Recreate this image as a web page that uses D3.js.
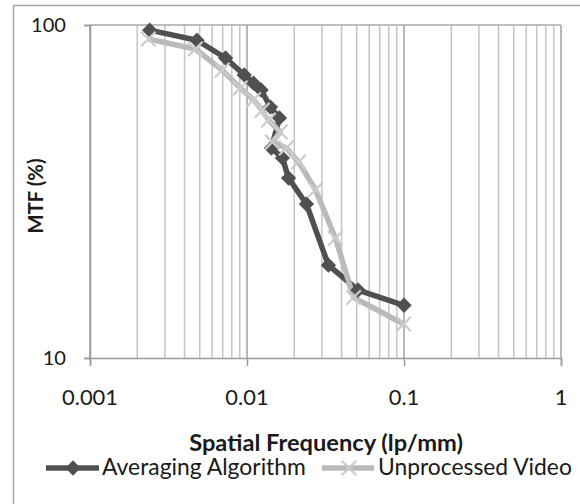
<!DOCTYPE html>
<html><head><meta charset="utf-8">
<script src="https://cdn.jsdelivr.net/npm/d3@7"></script>
<style>html,body{margin:0;padding:0;background:#fff;}svg{display:block;}</style>
</head><body>
<svg id="chart" width="580" height="504"></svg>
<script>
// ---- data ----
const avgFreq = [0.0024, 0.0048, 0.0073, 0.0096, 0.0110, 0.0123, 0.0141, 0.0161, 0.0143, 0.0168, 0.0184, 0.0239, 0.0330, 0.0510, 0.1000];
const avgMTF  = [96.5, 90.0, 79.6, 70.8, 66.9, 63.8, 56.7, 52.6, 42.7, 39.9, 34.7, 29.0, 19.0, 16.0, 14.4];
const rawFreq = [0.00235, 0.00468, 0.00696, 0.00907, 0.0110, 0.0125, 0.0137, 0.0163, 0.0145, 0.0178, 0.0213, 0.0273, 0.0366, 0.0477, 0.0995];
const rawMTF  = [90.8, 84.7, 73.2, 64.7, 59.6, 55.5, 51.8, 47.7, 44.5, 42.7, 38.8, 32.0, 22.9, 15.2, 12.65];
const xTicks = [0.001, 0.01, 0.1, 1];
const xTickLabels = ["0.001", "0.01", "0.1", "1"];
const yTicks = [10, 100];
const yTickLabels = ["10", "100"];
const seriesNames = ["Averaging Algorithm", "Unprocessed Video"];
const xTitle = "Spatial Frequency (lp/mm)";
const yTitle = "MTF (%)";

// ---- layout ----
const L = 90, R = 561, T = 25, B = 358;
const FONT = "Lato, 'Open Sans', sans-serif";
const svg = d3.select("#chart");
const x = d3.scaleLog().domain([0.001, 1]).range([L, R]);
const y = d3.scaleLog().domain([10, 100]).range([B, T]);

const fit = (sel, target) => {
  const w = sel.node().getComputedTextLength();
  const fs = parseFloat(sel.attr("font-size"));
  sel.attr("font-size", fs * target / w);
  return sel;
};

// outer frame
svg.append("rect").attr("x", 13.5).attr("y", 5.5).attr("width", 640).attr("height", 640)
  .attr("fill", "none").attr("stroke", "#a8a8a8").attr("stroke-width", 1.5);

// vertical gridlines (minor + major)
const gridVals = [];
for (let e = -3; e < 0; e++) for (let m = 1; m <= 9; m++) gridVals.push(m * Math.pow(10, e));
gridVals.push(1);
svg.append("g").selectAll("line").data(gridVals).join("line")
  .attr("x1", d => x(d)).attr("x2", d => x(d)).attr("y1", T).attr("y2", B)
  .attr("stroke", d => (Math.abs(Math.log10(d) - Math.round(Math.log10(d))) < 1e-9) ? "#a0a0a0" : "#c4c4c4")
  .attr("stroke-width", 1.5);
// top gridline at 100
svg.append("line").attr("x1", L).attr("x2", R).attr("y1", y(100)).attr("y2", y(100))
  .attr("stroke", "#a8a8a8").attr("stroke-width", 1.5);

// axes
const xAxis = d3.axisBottom(x).tickValues(xTicks).tickFormat(() => "").tickSize(8);
const gx = svg.append("g").attr("transform", `translate(0,${B})`).call(xAxis);
gx.select(".domain").attr("stroke", "#9a9a9a").attr("stroke-width", 1.5);
gx.selectAll(".tick line").attr("stroke", "#9a9a9a").attr("stroke-width", 1.5);
const yAxis = d3.axisLeft(y).tickValues(yTicks).tickFormat(() => "").tickSize(6);
const gy = svg.append("g").attr("transform", `translate(${L},0)`).call(yAxis);
gy.select(".domain").attr("stroke", "#9a9a9a").attr("stroke-width", 1.5);
gy.selectAll(".tick line").attr("stroke", "#9a9a9a").attr("stroke-width", 1.5);

// x tick labels
const xl = svg.append("g").selectAll("text").data(xTicks).join("text")
  .attr("x", d => x(d)).attr("y", 405).attr("text-anchor", "middle")
  .attr("font-family", FONT).attr("font-size", 20).attr("fill", "#1a1a1a")
  .text((d, i) => xTickLabels[i]);
{
  const w = xl.nodes()[0].getComputedTextLength();
  xl.attr("font-size", 20 * 56 / w);
}
// y tick labels
const yl = svg.append("g").selectAll("text").data(yTicks).join("text")
  .attr("x", 66).attr("y", d => y(d) + 7).attr("text-anchor", "end")
  .attr("font-family", FONT).attr("font-size", 20).attr("fill", "#1a1a1a")
  .text((d, i) => yTickLabels[i]);
{
  const w = yl.nodes()[1].getComputedTextLength();
  yl.attr("font-size", 20 * 35 / w);
}

// axis titles
fit(svg.append("text").attr("x", 326).attr("y", 451).attr("text-anchor", "middle")
  .attr("font-family", FONT).attr("font-weight", "bold").attr("font-size", 20).attr("fill", "#1a1a1a").text(xTitle), 274);
fit(svg.append("text").attr("transform", "translate(43,196) rotate(-90)").attr("text-anchor", "middle")
  .attr("font-family", FONT).attr("font-weight", "bold").attr("font-size", 18).attr("fill", "#1a1a1a").text(yTitle), 75);

// series
const avgData = avgFreq.map((f, i) => [f, avgMTF[i]]);
const rawData = rawFreq.map((f, i) => [f, rawMTF[i]]);
const line = d3.line().x(d => x(d[0])).y(d => y(d[1]));
const DARK = "#505050", LIGHT = "#bababa", XCOL = "#cccccc";

const diamond = d3.symbol().type(d3.symbolDiamond2).size(150);
const cross = d3.symbol().type(d3.symbolX).size(140);

svg.append("path").datum(avgData).attr("d", line).attr("fill", "none")
  .attr("stroke", DARK).attr("stroke-width", 5.5).attr("stroke-linejoin", "round");
svg.append("path").datum(rawData).attr("d", line).attr("fill", "none")
  .attr("stroke", LIGHT).attr("stroke-width", 5.5).attr("stroke-linejoin", "round");
svg.append("g").selectAll("path").data(avgData).join("path")
  .attr("transform", d => `translate(${x(d[0])},${y(d[1])})`).attr("d", diamond).attr("fill", DARK);
svg.append("g").selectAll("path").data(rawData).join("path")
  .attr("transform", d => `translate(${x(d[0])},${y(d[1])})`).attr("d", cross)
  .attr("fill", "none").attr("stroke", XCOL).attr("stroke-width", 2.2);

// legend
const lg = svg.append("g");
lg.append("line").attr("x1", 46).attr("x2", 99).attr("y1", 468).attr("y2", 468).attr("stroke", DARK).attr("stroke-width", 5.5);
lg.append("path").attr("transform", "translate(73,468)").attr("d", diamond).attr("fill", DARK);
fit(lg.append("text").attr("x", 102).attr("y", 475).attr("font-family", FONT).attr("font-size", 20)
  .attr("fill", "#1a1a1a").text(seriesNames[0]), 204);
lg.append("line").attr("x1", 322).attr("x2", 374).attr("y1", 468).attr("y2", 468).attr("stroke", LIGHT).attr("stroke-width", 5.5);
lg.append("path").attr("transform", "translate(349,468)").attr("d", cross).attr("fill", "none").attr("stroke", XCOL).attr("stroke-width", 2.2);
fit(lg.append("text").attr("x", 378).attr("y", 475).attr("font-family", FONT).attr("font-size", 20)
  .attr("fill", "#1a1a1a").text(seriesNames[1]), 194);
</script>
</body></html>
